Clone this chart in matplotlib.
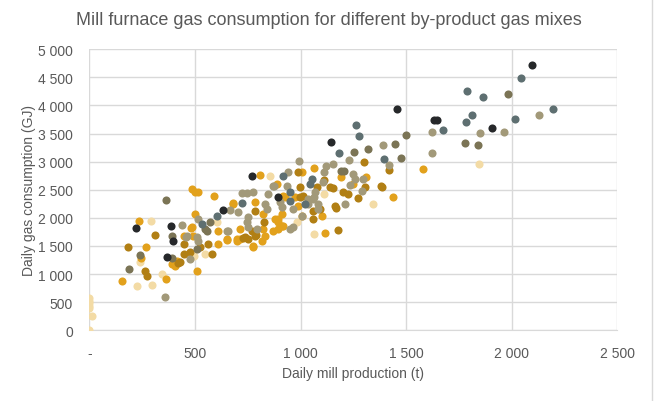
import matplotlib.pyplot as plt
from matplotlib.lines import Line2D
from matplotlib.ticker import FuncFormatter, MultipleLocator

# daily mill production (t) and gas consumption (GJ), grouped by gas mix colour
tan_x = [0, 0, 0, 0, 0, 12, 0, 224, 295, 345, 239, 291, 495, 547, 603, 855,
         985, 1064, 1113, 1345, 1844]
tan_y = [570, 520, 480, 440, 390, 250, 0, 794, 811, 1002, 1210, 1939, 1327,
         1357, 1921, 2751, 1921, 1719, 2425, 2241, 2953]

gold_x = [152, 363, 405, 235, 266, 244, 413, 449, 481, 484, 500, 516, 591,
          511, 492, 610, 650, 700, 773, 681, 784, 824, 879, 895, 911, 500,
          484, 610, 713, 824, 871, 650, 698, 713, 776, 816, 832, 808, 918,
          926, 974, 990, 1006, 895, 911, 918, 895, 1100, 887, 1008, 1065,
          1192, 1310, 1250, 1117, 1440, 1582, 392, 678]
gold_y = [883, 913, 1149, 1939, 1476, 1281, 1238, 1683, 1815, 2514, 2466,
          2466, 2395, 1050, 1683, 1535, 1606, 1594, 1487, 2247, 2277, 2069,
          1980, 1921, 1861, 2069, 1832, 1761, 1802, 1802, 1772, 1624, 1624,
          1624, 1505, 1594, 1683, 2763, 2395, 2366, 2366, 2217, 2039, 1980,
          2069, 1861, 1802, 2039, 2603, 2811, 2882, 2733, 2733, 2603, 1731,
          2371, 2870, 1180, 2264]

dgold_x = [263, 271, 421, 310, 181, 449, 429, 448, 563, 579, 729, 753, 789,
           784, 828, 768, 737, 784, 476, 524, 990, 998, 1140, 1154, 1306,
           1380, 1301, 1419, 1385, 1274, 1163, 1168, 1179, 1092, 1061, 1227,
           1113, 998, 1013, 1061, 1077, 1203]
dgold_y = [1050, 971, 1197, 1695, 1476, 1357, 1210, 1535, 1535, 1357, 1642,
           1624, 1695, 2128, 1921, 1772, 1654, 1683, 1388, 1476, 2822, 2544,
           2544, 2526, 2544, 2567, 2989, 2846, 2555, 2359, 2217, 2176, 1790,
           2158, 2128, 2425, 2680, 2366, 2395, 1980, 2544, 2455]

ogrey_x = [358, 437, 460, 476, 457, 508, 516, 721, 745, 776, 847, 871, 666,
           705, 753, 745, 753, 832, 840, 516, 650, 658, 792, 942, 993, 1122,
           1152, 1230, 1113, 1250, 1298, 1108, 1235, 937, 1211, 1007, 950,
           966, 1069, 1061, 1290, 1258, 903, 911, 966, 1037, 1037, 1065,
           1084, 1084, 1391, 1419, 1622, 1851, 1964, 1622, 2130, 876]
ogrey_y = [598, 1879, 1683, 1268, 1665, 1654, 1594, 2443, 2443, 2455, 2425,
           2572, 2140, 2099, 2010, 1921, 1832, 2247, 2158, 1980, 1772, 1772,
           1802, 2811, 3006, 2928, 2953, 3030, 2822, 2781, 2692, 2633, 2585,
           2572, 2252, 2039, 1802, 1832, 2455, 2336, 2484, 2692, 2277, 2188,
           2158, 2336, 2247, 2366, 2247, 2158, 3291, 2941, 3522, 3515, 3533,
           3149, 3825, 2560]

olive_x = [187, 239, 390, 392, 361, 571, 547, 555, 1498, 1448, 1781, 1841,
           1475, 1253, 1318, 1192, 1208, 1985, 508]
olive_y = [1091, 1340, 1281, 1683, 2318, 1921, 1802, 1772, 3469, 3309, 3332,
           3291, 3065, 3167, 3220, 2840, 2834, 4204, 1446]

slate_x = [1789, 1865, 2043, 2195, 2015, 1813, 1784, 1675, 1397, 1184, 1264,
           1279, 1053, 1045, 1021, 950, 950, 724, 606, 532, 918]
slate_y = [4252, 4156, 4494, 3937, 3765, 3836, 3706, 3569, 3053, 3149, 3658,
           3451, 2692, 2603, 2247, 2455, 2306, 2259, 2039, 1891, 2740]

black_x = [2097, 1456, 1631, 1648, 1907, 1144, 768, 634, 895, 219, 386, 366,
           397]
black_y = [4725, 3937, 3736, 3736, 3599, 3345, 2740, 2146, 2366, 1815, 1850,
           1300, 1594]

groups = [
    (tan_x, tan_y, '#F3DBA5'),
    (gold_x, gold_y, '#E2A11C'),
    (dgold_x, dgold_y, '#B17F14'),
    (ogrey_x, ogrey_y, '#A29979'),
    (olive_x, olive_y, '#7B7455'),
    (slate_x, slate_y, '#5E6F71'),
    (black_x, black_y, '#26282A'),
]

grey = '#595959'
plt.rcParams['font.family'] = ['Liberation Sans', 'DejaVu Sans']

fig = plt.figure(figsize=(6.58, 4.02), dpi=100)
ax = fig.add_axes([0.136, 0.176, 0.802, 0.699])

for xs, ys, col in groups:
    ax.scatter(xs, ys, s=34, color=col, linewidths=0, zorder=3)


def thousands(v, pos):
    if v == 0:
        return '-'
    return f'{int(v):,}'.replace(',', ' ')


def thousands_y(v, pos):
    return f'{int(v):,}'.replace(',', ' ')


ax.set_xlim(0, 2500)
ax.set_ylim(0, 5000)
ax.xaxis.set_major_locator(MultipleLocator(500))
ax.yaxis.set_major_locator(MultipleLocator(500))
ax.xaxis.set_major_formatter(FuncFormatter(thousands))
ax.yaxis.set_major_formatter(FuncFormatter(thousands_y))

ax.grid(True, color='#D9D9D9', linewidth=1, zorder=0)
for side in ['top', 'right', 'left']:
    ax.spines[side].set_visible(False)
ax.spines['bottom'].set_color('#D9D9D9')
ax.tick_params(length=0, labelsize=10, labelcolor=grey)
ax.tick_params(axis='x', pad=11)
ax.tick_params(axis='y', pad=12)

ax.set_xlabel('Daily mill production (t)', fontsize=10, color=grey, labelpad=5)
ax.set_ylabel('Daily gas consumption (GJ)', fontsize=10, color=grey, labelpad=1)
fig.text(0.5, 0.95, 'Mill furnace gas consumption for different by-product gas mixes',
         ha='center', va='center', fontsize=13, color=grey)

# chart area border on the right edge
fig.add_artist(Line2D([0.991, 0.991], [0, 1], transform=fig.transFigure,
                      color='#D9D9D9', linewidth=1))

fig.savefig('out.png', dpi=100)
